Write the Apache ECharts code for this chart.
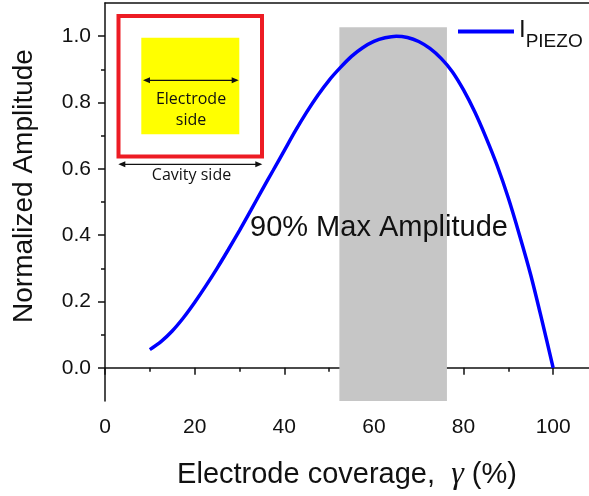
<!DOCTYPE html>
<html>
<head>
<meta charset="utf-8">
<script src="https://cdn.jsdelivr.net/npm/echarts@6/dist/echarts.min.js"></script>
<style>
  html, body { margin: 0; padding: 0; background: #fff; }
  #chart { width: 589px; height: 496px; }
</style>
</head>
<body>
<div id="chart"></div>
<script>
// 电极覆盖率 (%)
const coverage = [10, 12.5, 15, 17.5, 20, 22.5, 25, 27.5, 30, 32.5, 35, 37.5, 40, 42.5, 45, 47.5, 50, 52.5, 55, 57.5,
  60, 62.5, 65, 67.5, 70, 72.5, 75, 77.5, 80, 82.5, 85, 87.5, 90, 92.5, 95, 97.5, 100];
// 归一化振幅
const amplitude = [0.055, 0.079, 0.111, 0.151, 0.197, 0.247, 0.300, 0.356, 0.414, 0.474, 0.535, 0.595, 0.655,
  0.715, 0.771, 0.822, 0.867, 0.905, 0.939, 0.965, 0.984, 0.995, 1.0, 0.996, 0.984, 0.963, 0.933, 0.893, 0.838,
  0.772, 0.695, 0.61, 0.512, 0.40, 0.28, 0.143, 0.0];
// 90% 区间 (灰色)
const shadeX = [52.3, 76.3];
const shadeY = [-0.1, 1.027];
// 刻度
const xMajor = [0, 20, 40, 60, 80, 100];
const xMinor = [10, 30, 50, 70, 90];
const yMajor = [0, 0.2, 0.4, 0.6, 0.8, 1.0];
const yMinor = [0.1, 0.3, 0.5, 0.7, 0.9];

const font = 'Liberation Sans';
const ink = '#111';

const chart = echarts.init(document.getElementById('chart'));

function arrow(x1, x2, y) {
  const h = 7; // 箭头长度
  const w = 3;
  return [
    { type: 'line', shape: { x1: x1 + 2, y1: y, x2: x2 - 2, y2: y }, style: { stroke: ink, lineWidth: 1.2 }, z: 10 },
    { type: 'polygon', shape: { points: [[x1, y], [x1 + h, y - w], [x1 + h, y + w]] }, style: { fill: ink }, z: 10 },
    { type: 'polygon', shape: { points: [[x2, y], [x2 - h, y - w], [x2 - h, y + w]] }, style: { fill: ink }, z: 10 },
  ];
}

const option = {
  animation: false,
  grid: { left: 105, right: 0, top: 3, bottom: 95 },
  legend: {
    left: 458,
    top: 9,
    padding: 0,
    // 图例线条放在图标框上部
    icon: 'path://M0,0H56V4H0ZM0,19H0.01V19.01H0Z',
    itemWidth: 56,
    itemHeight: 19,
    data: ['IPIEZO'],
    formatter: () => '{i|I}{s|PIEZO}',
    textStyle: {
      rich: {
        i: { fontSize: 24, lineHeight: 24, fontFamily: font, color: ink, verticalAlign: 'bottom', padding: [9, 0, 9, 0] },
        s: { fontSize: 19, lineHeight: 19, fontFamily: font, color: ink, verticalAlign: 'bottom' },
      },
    },
  },
  xAxis: [
    {
      type: 'value',
      min: 0,
      max: 108,
      position: 'bottom',
      name: '{a|Electrode coverage,  }{g|γ}{a| (%)}',
      nameLocation: 'middle',
      nameGap: 58,
      nameTextStyle: {
        rich: {
          a: { fontSize: 29, fontFamily: font, color: ink },
          g: { fontSize: 32, fontFamily: 'Liberation Serif', fontStyle: 'italic', color: ink },
        },
      },
      axisLine: { lineStyle: { color: ink, width: 1.5 } },
      axisTick: { customValues: xMajor, length: 7, lineStyle: { color: ink, width: 1.5 } },
      axisLabel: { customValues: xMajor, margin: 16, fontSize: 21, fontFamily: font, color: ink },
      splitLine: { show: false },
    },
    {
      type: 'value',
      min: 0,
      max: 108,
      position: 'bottom',
      axisLine: { show: false },
      axisTick: { customValues: xMinor, length: 4, lineStyle: { color: ink, width: 1.5 } },
      axisLabel: { show: false },
      splitLine: { show: false },
    },
    {
      type: 'value',
      min: 0,
      max: 108,
      position: 'top',
      axisLine: { lineStyle: { color: ink, width: 1.5 } },
      axisTick: { show: false },
      axisLabel: { show: false },
      splitLine: { show: false },
    },
  ],
  yAxis: [
    {
      type: 'value',
      min: -0.1,
      max: 1.1,
      position: 'left',
      name: 'Normalized Amplitude',
      nameLocation: 'middle',
      nameGap: 67,
      nameTextStyle: { fontSize: 28, fontFamily: font, color: ink, padding: [0, 0, 0, 32] },
      axisLine: { show: true, lineStyle: { color: ink, width: 1.5 } },
      axisTick: { show: true, customValues: yMajor, length: 7, lineStyle: { color: ink, width: 1.5 } },
      axisLabel: {
        customValues: yMajor,
        margin: 14,
        fontSize: 21,
        fontFamily: font,
        color: ink,
        formatter: (v) => v.toFixed(1),
      },
      splitLine: { show: false },
    },
    {
      type: 'value',
      min: -0.1,
      max: 1.1,
      position: 'left',
      axisLine: { show: false },
      axisTick: { show: true, customValues: yMinor, length: 4, lineStyle: { color: ink, width: 1.5 } },
      axisLabel: { show: false },
      splitLine: { show: false },
    },
  ],
  graphic: [
    // 腔体 (红框)
    { type: 'rect', shape: { x: 118.5, y: 16, width: 143.5, height: 140.5 }, style: { fill: '#fff', stroke: '#ed1c24', lineWidth: 4 }, z: 5 },
    // 电极 (黄色)
    { type: 'rect', shape: { x: 141.3, y: 37.7, width: 98, height: 96.6 }, style: { fill: '#ffff00' }, z: 6 },
    ...arrow(143, 238.7, 80.3),
    { type: 'text', x: 191, y: 99, style: { text: 'Electrode', font: '16px "Open Sans"', fill: ink, align: 'center', verticalAlign: 'middle' }, z: 10 },
    { type: 'text', x: 191, y: 120.5, style: { text: 'side', font: '16px "Open Sans"', fill: ink, align: 'center', verticalAlign: 'middle' }, z: 10 },
    ...arrow(118.3, 262.3, 164.3),
    { type: 'text', x: 191.5, y: 175, style: { text: 'Cavity side', font: '16px "Open Sans"', fill: ink, align: 'center', verticalAlign: 'middle' }, z: 10 },
    // 标注
    { type: 'text', x: 250, y: 228, style: { text: '90% Max Amplitude', font: '29px "Liberation Sans"', fill: ink, align: 'left', verticalAlign: 'middle' }, z: 10 },
  ],
  series: [
    {
      name: 'IPIEZO',
      type: 'line',
      xAxisIndex: 0,
      yAxisIndex: 0,
      data: coverage.map((x, i) => [x, amplitude[i]]),
      smooth: 0.3,
      showSymbol: false,
      lineStyle: { color: '#0000ff', width: 3.5 },
      itemStyle: { color: '#0000ff' },
      markArea: {
        silent: true,
        itemStyle: { color: '#c6c6c6' },
        data: [[{ xAxis: shadeX[0], yAxis: shadeY[0] }, { xAxis: shadeX[1], yAxis: shadeY[1] }]],
      },
      z: 3,
    },
  ],
};

chart.setOption(option);
</script>
</body>
</html>
